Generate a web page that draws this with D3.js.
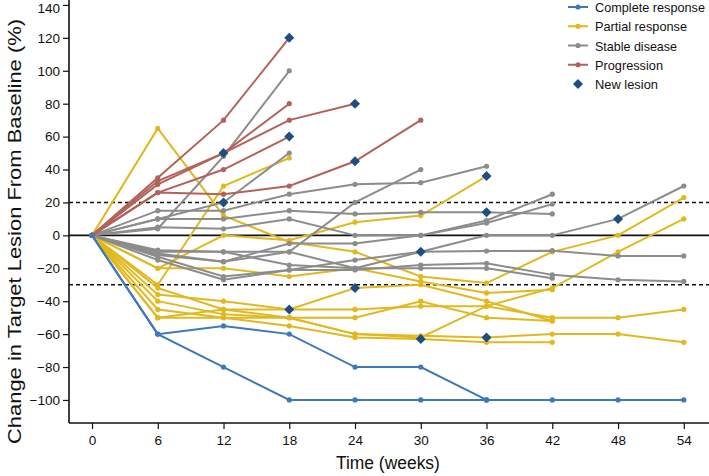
<!DOCTYPE html>
<html><head><meta charset="utf-8">
<script src="https://cdn.jsdelivr.net/npm/d3@7"></script>
<style>
body{margin:0;background:#fff;}
svg text{font-family:"Liberation Sans Narrow","Arial Narrow","Liberation Sans",sans-serif;fill:#111;}
</style></head>
<body><svg id="c" width="709" height="476"></svg>
<script>
const weeks = [0, 6, 12, 18, 24, 30, 36, 42, 48, 54];
const yTicks = [-100, -80, -60, -40, -20, 0, 20, 40, 60, 80, 100, 120, 140];
const thresholds = [20, -30];
const legendLabels = ["Complete response", "Partial response", "Stable disease", "Progression", "New lesion"];

// values at weeks 0,6,12,... (each series ends where data ends)
const completeResponse = [
  [0, -60, -80, -100, -100, -100, -100, -100, -100, -100],
  [0, -60, -55, -60, -80, -80, -100]
];
const partialResponse = [
  [0, 65, 12, -4, -10, -25, -29, -10, 0, 23],
  [0, -30, 30, 47],
  [0, -20, 0, -3, 8, 12, 36],
  [0, -20, -20, -25, -20, -28, -35, -33],
  [0, -32, -45, -45, -32, -30, -40, -52],
  [0, -36, -40, -45, -45, -43, -43, -50, -50, -45],
  [0, -40, -48, -50, -60, -62, -43, -32, -10, 10],
  [0, -45, -50, -55, -62, -63, -65, -65],
  [0, -50, -45, -50, -60, -61, -62, -60, -60, -65],
  [0, -50, -50, -50, -50, -40, -50, -52]
];
const stableDisease = [
  [0, 4, 48, 100],
  [0, 10, 20, 50],
  [0, 15, 15, 25, 31, 32, 42],
  [0, 10, 10, 15, 13, 14, 14, 13],
  [0, -9, -10, -10, 20, 40],
  [0, 5, 4, 10, 0, 0, 9, 25],
  [0, -12, -16, -5, -5, 0, 7.5, 19],
  [0, -10, -10, -18, -20, -10, 0, 0, 10, 30],
  [0, -13, -25, -21, -15, -10, -9.5, -9.3, -12.5, -12.5],
  [0, -15, -27, -21, -21, -18, -17, -24, -27, -28],
  [0, -11, -16, -10, -20, -20, -20, -26]
];
const progression = [
  [0, 35, 70, 120],
  [0, 31, 50, 80],
  [0, 33, 50, 70, 80],
  [0, 26, 40, 60],
  [0, 26, 25, 30, 45, 70]
];
// [week, value]
const newLesions = [
  [18, 120], [12, 50], [24, 80], [18, 60], [24, 45], [12, 20], [36, 14],
  [30, -10], [48, 10], [36, 36], [18, -45], [24, -32], [30, -63], [36, -62]
];

const colors = {cr: "#3d78bd", pr: "#e1b91f", sd: "#8c8c8c", pd: "#b3625a", nl: "#1f4f80"};

const svg = d3.select("#c");
const x = d3.scaleLinear().domain([-2.1, 56.3]).range([69, 709]);
const y = d3.scaleLinear().domain([-114, 143]).range([423, 0]);

// axes
const yAxis = d3.axisLeft(y).tickValues(yTicks).tickSize(6).tickPadding(3);
const gy = svg.append("g").attr("transform", "translate(69,0)").call(yAxis);
gy.select(".domain").attr("stroke", "#111").attr("stroke-width", 1.6).attr("d", "M0,0V423");
gy.selectAll(".tick line").attr("stroke", "#111").attr("stroke-width", 1.2);
gy.selectAll(".tick text").style("font-size", "13.5px")
  .attr("dy", d => d === 140 ? "0.55em" : "0.32em");

const xAxis = d3.axisBottom(x).tickValues(weeks).tickSize(6).tickPadding(6);
const gx = svg.append("g").attr("transform", "translate(0,423)").call(xAxis);
gx.select(".domain").attr("stroke", "#111").attr("stroke-width", 1.6).attr("d", "M69,0H709");
gx.selectAll(".tick line").attr("stroke", "#111").attr("stroke-width", 1.2);
gx.selectAll(".tick text").style("font-size", "13.5px");

// titles
svg.append("text").attr("x", x(27)).attr("y", 469).attr("text-anchor", "middle")
  .style("font-size", "18px").attr("textLength", 104).attr("lengthAdjust", "spacingAndGlyphs")
  .text("Time (weeks)");
svg.append("text").attr("transform", `translate(21,${(18+445)/2}) rotate(-90)`)
  .attr("text-anchor", "middle").style("font-size", "19px")
  .attr("textLength", 425).attr("lengthAdjust", "spacingAndGlyphs")
  .text("Change in Target Lesion From Baseline (%)");

// reference lines
svg.append("line").attr("x1", 69).attr("x2", 709).attr("y1", y(0)).attr("y2", y(0))
  .attr("stroke", "#111").attr("stroke-width", 1.8);
svg.selectAll("line.thr").data(thresholds).enter().append("line").attr("class", "thr")
  .attr("x1", 69).attr("x2", 709).attr("y1", d => y(d)).attr("y2", d => y(d))
  .attr("stroke", "#111").attr("stroke-width", 1.6).attr("stroke-dasharray", "4,3");

const line = d3.line().x((d, i) => x(weeks[i])).y(d => y(d));

function drawGroup(data, color) {
  const g = svg.append("g");
  data.forEach(s => {
    g.append("path").attr("d", line(s)).attr("fill", "none")
      .attr("stroke", color).attr("stroke-width", 2);
    g.selectAll(null).data(s).enter().append("circle")
      .attr("cx", (d, i) => x(weeks[i])).attr("cy", d => y(d)).attr("r", 2.6)
      .attr("fill", color);
  });
}
drawGroup(partialResponse, colors.pr);
drawGroup(stableDisease, colors.sd);
drawGroup(progression, colors.pd);
drawGroup(completeResponse, colors.cr);

const diamond = d3.symbol().type(d3.symbolDiamond2).size(64);
svg.append("g").selectAll("path").data(newLesions).enter().append("path")
  .attr("d", diamond).attr("transform", d => `translate(${x(d[0])},${y(d[1])})`)
  .attr("fill", colors.nl);

// legend
const legColors = [colors.cr, colors.pr, colors.sd, colors.pd, colors.nl];
const legWidths = [110, 92, 82, 68, 63];
const lg = svg.append("g");
legendLabels.forEach((lab, i) => {
  const cy = 7 + i * 19.25;
  if (i < 4) {
    lg.append("line").attr("x1", 568).attr("x2", 588).attr("y1", cy).attr("y2", cy)
      .attr("stroke", legColors[i]).attr("stroke-width", 2);
    lg.append("circle").attr("cx", 578).attr("cy", cy).attr("r", 2.6).attr("fill", legColors[i]);
  } else {
    lg.append("path").attr("d", diamond).attr("transform", `translate(578,${cy})`).attr("fill", legColors[i]);
  }
  lg.append("text").attr("x", 595).attr("y", cy + 5).style("font-size", "12.6px")
    .attr("textLength", legWidths[i]).attr("lengthAdjust", "spacingAndGlyphs").text(lab);
});
</script></body></html>
